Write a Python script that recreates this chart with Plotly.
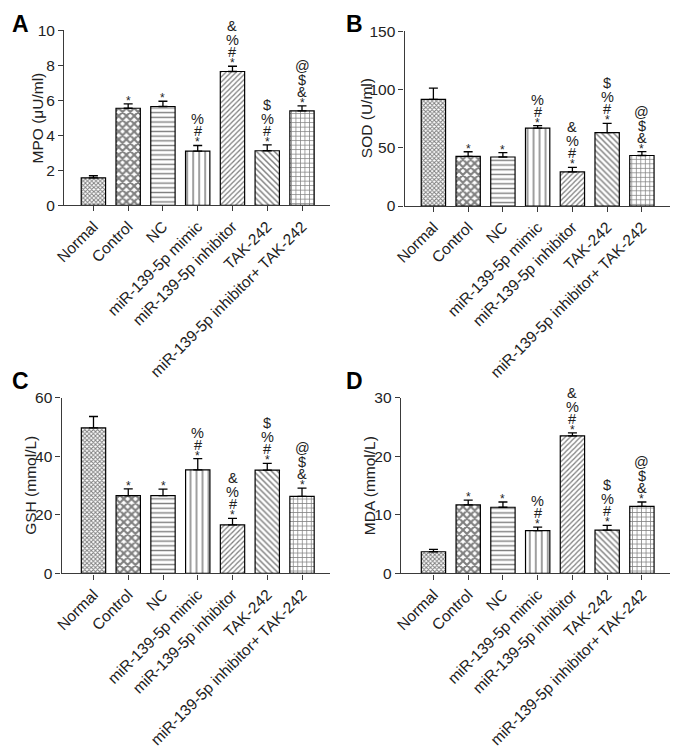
import plotly.graph_objects as go

groups = ["Normal", "Control", "NC", "miR-139-5p mimic", "miR-139-5p inhibitor",
          "TAK-242", "miR-139-5p inhibitor+ TAK-242"]

mpo = [1.57, 5.55, 5.65, 3.1, 7.65, 3.12, 5.4]
mpo_err = [0.12, 0.25, 0.3, 0.32, 0.3, 0.33, 0.28]
sod = [91.5, 42.5, 42.0, 66.7, 29.2, 63.0, 43.3]
sod_err = [9.5, 4.0, 3.7, 2.3, 4.0, 7.8, 3.4]
gsh = [49.7, 26.6, 26.6, 35.4, 16.6, 35.3, 26.3]
gsh_err = [3.9, 2.3, 2.2, 3.8, 2.2, 2.3, 2.8]
mda = [3.7, 11.7, 11.3, 7.3, 23.5, 7.4, 11.45]
mda_err = [0.4, 0.8, 0.9, 0.6, 0.5, 0.8, 0.75]

# significance marks, listed bottom -> top
marks = [[], ["*"], ["*"], ["*", "#", "%"], ["*", "#", "%", "&"],
         ["*", "#", "%", "$"], ["*", "&", "$", "@"]]

FONT = "Liberation Sans, Arial, sans-serif"
W, H = 673, 748

# bar fill patterns (shape, size, solidity)
patterns = [("x", 3, 0.55), ("x", 5.5, 0.62), ("-", 4.7, 0.3), ("|", 6, 0.25),
            ("/", 3.6, 0.35), ("\\", 4.2, 0.35), ("+", 4.5, 0.3)]

# plot areas in page pixels (left, right), (top, bottom)
panels = [
    dict(letter="A", vals=mpo, err=mpo_err, title="MPO (μU/ml)", yr=[0, 10], dt=2,
         px=(55, 325), py=(22, 202), xr=[-0.84, 6.81], lx=0, ly=0, tx=28),
    dict(letter="B", vals=sod, err=sod_err, title="SOD (U/ml)", yr=[0, 150], dt=50,
         px=(400.5, 670), py=(22.7, 202.7), xr=[-0.83, 6.81], lx=339, ly=0, tx=362),
    dict(letter="C", vals=gsh, err=gsh_err, title="GSH (mmol/L)", yr=[0, 60], dt=20,
         px=(52.3, 325), py=(400, 580.7), xr=[-0.92, 6.81], lx=0, ly=367, tx=20.5),
    dict(letter="D", vals=mda, err=mda_err, title="MDA (mmol/L)", yr=[0, 30], dt=10,
         px=(396.7, 670), py=(400, 580.7), xr=[-0.94, 6.81], lx=339, ly=367, tx=365),
]

row_shift = [3, 14, 26, 40]

fig = go.Figure()
annotations = []
layout = {}

for i, p in enumerate(panels):
    n = "" if i == 0 else str(i + 1)
    xa, ya = "x" + n, "y" + n
    for j, g in enumerate(groups):
        shp, sz, sol = patterns[j]
        fig.add_trace(go.Bar(
            x=[g], y=[p["vals"][j]], xaxis=xa, yaxis=ya, width=0.7,
            marker=dict(color="white", line=dict(color="black", width=1.2),
                        pattern=dict(shape=shp, size=sz, solidity=sol,
                                     fgcolor="black", bgcolor="white")),
            error_y=dict(type="data", array=[p["err"][j]], arrayminus=[0],
                         symmetric=False, color="black", thickness=1.3, width=4.5),
            showlegend=False, hoverinfo="skip"))
        top = p["vals"][j] + p["err"][j]
        for k, m in enumerate(marks[j]):
            annotations.append(dict(
                x=g, y=top, xref=xa, yref=ya, text=m, showarrow=False,
                yanchor="middle", yshift=row_shift[k], borderpad=0,
                font=dict(family=FONT, size=12 if m == "*" else 14.5, color="#222")))

    layout["xaxis" + n] = dict(
        domain=[p["px"][0] / W, p["px"][1] / W], anchor=ya, range=p["xr"],
        type="category", categoryorder="array", categoryarray=groups,
        showline=True, linecolor="#3a3a3a", linewidth=1.3, ticks="outside",
        ticklen=5, tickcolor="#3a3a3a", tickangle=-45, showgrid=False,
        tickfont=dict(family=FONT, size=15.5, color="#222"))
    layout["yaxis" + n] = dict(
        domain=[1 - p["py"][1] / H, 1 - p["py"][0] / H], anchor=xa, range=p["yr"],
        dtick=p["dt"], showline=True, linecolor="#3a3a3a", linewidth=1.3,
        ticks="outside", ticklen=5, tickcolor="#3a3a3a", showgrid=False,
        zeroline=False, tickfont=dict(family=FONT, size=15.5, color="#222"))

    annotations.append(dict(
        x=p["tx"] / W, y=1 - (p["py"][0] + p["py"][1]) / 2 / H, xref="paper", yref="paper",
        text=p["title"], textangle=-90, showarrow=False, xanchor="center", yanchor="middle",
        font=dict(family=FONT, size=15.5, color="#222")))
    annotations.append(dict(
        x=p["lx"] / W, y=1 - p["ly"] / H, xref="paper", yref="paper",
        text="<b>" + p["letter"] + "</b>", showarrow=False, xanchor="left", yanchor="top",
        font=dict(family=FONT, size=23, color="black")))

fig.update_layout(
    width=W, height=H, margin=dict(l=0, r=0, t=0, b=0),
    plot_bgcolor="white", paper_bgcolor="white",
    annotations=annotations, bargap=0.3, **layout)

fig.write_html("out.html", config={"displayModeBar": False},
               post_script="document.body.style.margin='0';")
